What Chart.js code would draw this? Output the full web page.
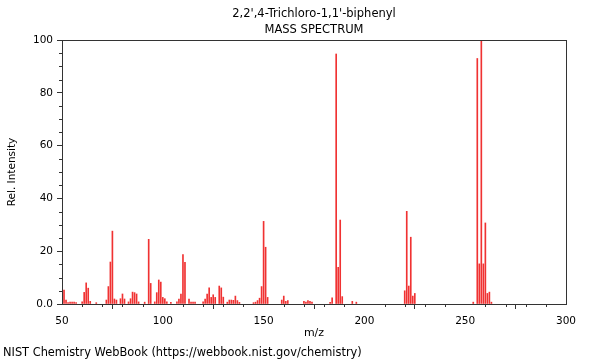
<!DOCTYPE html>
<html>
<head>
<meta charset="utf-8">
<script src="https://cdn.jsdelivr.net/npm/chart.js@4/dist/chart.umd.min.js"></script>
<style>
  html, body { margin: 0; padding: 0; background: #fff; }
</style>
</head>
<body>
<canvas id="spectrum" width="600" height="360"></canvas>
<script>
// Peaks (m/z and relative intensity)
const massToCharge = [
    51, 52, 53, 54, 55, 56, 57, 60, 61, 62, 63, 64, 67,
    72, 73, 74, 75, 76, 77, 79, 80, 81, 83, 84, 85, 86, 87, 88,
    91, 93, 94, 96, 97, 98, 99, 100, 101, 102, 104,
    107, 108, 109, 110, 111, 113, 114, 115, 116,
    120, 121, 122, 123, 124, 125, 126, 128, 129, 130,
    132, 133, 134, 135, 136, 137, 138,
    145, 146, 147, 148, 149, 150, 151, 152,
    159, 160, 161, 162, 170, 171, 172, 173, 174,
    183, 184, 186, 187, 188, 189, 194, 196,
    220, 221, 222, 223, 224, 225,
    254, 256, 257, 258, 259, 260, 261, 262, 263
];
const relIntensity = [
    5.3, 1.5, 0.5, 0.7, 0.7, 0.7, 0.5, 0.8, 4.4, 8.0, 6.0, 1.0, 0.5,
    1.5, 6.6, 15.9, 27.6, 1.9, 1.5, 2.0, 3.8, 1.9, 0.8, 2.0, 4.5, 4.3, 3.8, 0.8,
    0.7, 24.5, 7.8, 0.8, 4.3, 9.1, 8.3, 2.5, 2.0, 0.8, 0.6,
    0.8, 1.9, 3.8, 18.7, 15.8, 1.9, 0.7, 0.7, 0.7,
    0.8, 1.9, 3.8, 6.1, 2.5, 3.5, 2.5, 6.8, 6.1, 2.6,
    0.7, 1.5, 1.5, 1.4, 3.0, 1.3, 0.6,
    0.5, 0.7, 1.3, 2.2, 6.6, 31.3, 21.5, 2.5,
    1.5, 3.0, 1.0, 1.3, 1.0, 0.7, 1.3, 1.0, 0.7,
    0.6, 2.3, 94.7, 13.9, 31.8, 2.8, 1.0, 0.7,
    5.0, 35.1, 6.8, 25.3, 3.0, 4.0,
    0.7, 93.0, 15.2, 100, 15.2, 30.7, 4.0, 4.5, 0.7
];
const compoundName = "2,2',4-Trichloro-1,1'-biphenyl";
const spectrumType = 'MASS SPECTRUM';
const sourceNote = 'NIST Chemistry WebBook (https://webbook.nist.gov/chemistry)';
const xRange = [50, 300];
const yRange = [0, 100];

const axisColor = '#333';
const peakColor = 'rgb(240, 50, 50)';
const font = 'DejaVu Sans';

// minor ticks, plot frame and the text around the plot
const decorations = {
    id: 'decorations',
    afterDraw(chart) {
        const { ctx, chartArea: area, scales } = chart;
        ctx.save();
        ctx.strokeStyle = axisColor;
        ctx.lineWidth = 1;
        ctx.strokeRect(area.left + 0.5, area.top + 0.5, area.right - area.left, area.bottom - area.top);

        ctx.beginPath();
        for (let v = yRange[0]; v <= yRange[1]; v += 5) {
            if (v % 20 === 0) continue;
            const y = Math.round(scales.y.getPixelForValue(v)) + 0.5;
            ctx.moveTo(area.left - 3, y);
            ctx.lineTo(area.left, y);
        }
        for (let v = xRange[0]; v <= xRange[1]; v += 10) {
            if (v % 50 === 0) continue;
            const x = Math.round(scales.x.getPixelForValue(v)) + 0.5;
            ctx.moveTo(x, area.bottom);
            ctx.lineTo(x, area.bottom + 3);
        }
        ctx.stroke();

        ctx.fillStyle = '#000';
        ctx.font = `11.5px "${font}"`;
        ctx.textAlign = 'center';
        ctx.textBaseline = 'middle';
        const mid = (area.left + area.right) / 2;
        ctx.fillText(compoundName, mid, 14);
        ctx.fillText(spectrumType, mid, 30);
        ctx.textAlign = 'left';
        ctx.font = `11.4px "${font}"`;
        ctx.fillText(sourceNote, 3, 353);
        ctx.restore();
    }
};

new Chart(document.getElementById('spectrum'), {
    type: 'bar',
    data: {
        datasets: [{
            data: massToCharge.map((m, i) => ({ x: m, y: relIntensity[i] })),
            backgroundColor: peakColor,
            borderWidth: 0,
            barThickness: 1
        }]
    },
    options: {
        responsive: false,
        animation: false,
        layout: { padding: { top: 40, right: 34, left: 0, bottom: 20 } },
        plugins: {
            legend: { display: false },
            tooltip: { enabled: false }
        },
        scales: {
            x: {
                type: 'linear',
                offset: false,
                min: xRange[0],
                max: xRange[1],
                afterFit: (scale) => { scale.height = 36; },
                ticks: {
                    stepSize: 50,
                    padding: 6,
                    color: '#000',
                    font: { family: font, size: 10.5 }
                },
                grid: { drawOnChartArea: false, tickLength: 5, color: axisColor },
                border: { color: axisColor },
                title: {
                    display: true,
                    text: 'm/z',
                    color: '#000',
                    font: { family: font, size: 11 },
                    padding: { top: 2, bottom: 0 }
                }
            },
            y: {
                min: yRange[0],
                max: yRange[1],
                afterFit: (scale) => { scale.width = 62; },
                ticks: {
                    stepSize: 20,
                    padding: 4,
                    color: '#000',
                    font: { family: font, size: 10.5 },
                    callback: (v) => v === 0 ? '0.0' : v
                },
                grid: { drawOnChartArea: false, tickLength: 5, color: axisColor },
                border: { color: axisColor },
                title: {
                    display: true,
                    text: 'Rel. Intensity',
                    color: '#000',
                    font: { family: font, size: 10.5 },
                    padding: { top: 6, bottom: 0 }
                }
            }
        }
    },
    plugins: [decorations]
});
</script>
</body>
</html>
